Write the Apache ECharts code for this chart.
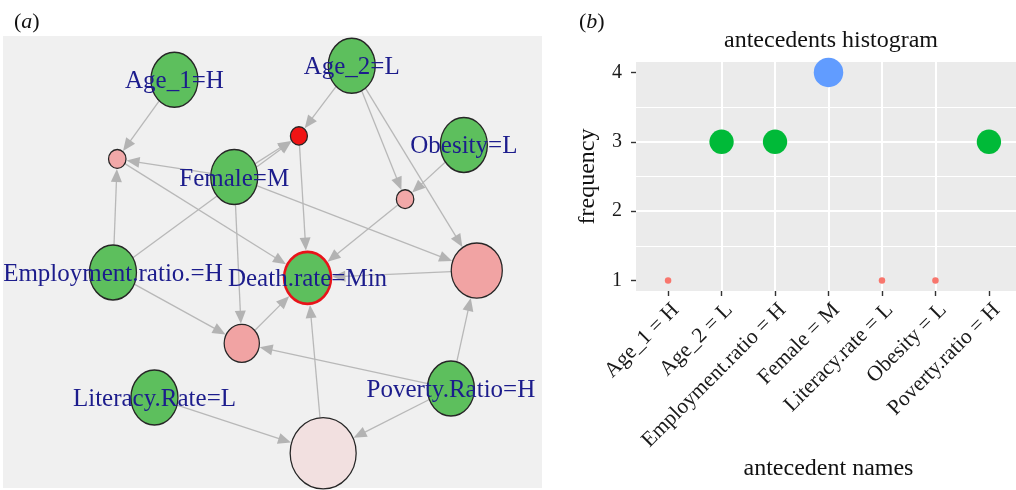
<!DOCTYPE html>
<html><head><meta charset="utf-8">
<script src="https://cdn.jsdelivr.net/npm/echarts@6/dist/echarts.min.js"></script>
<style>html,body{margin:0;padding:0;background:#fff}#c{width:1016px;height:490px}</style>
</head><body><div id="c"></div>
<script>
// ---------- panel (a): association-rule graph (layout coordinates 0..100) ----------
const itemNames   = ['Age_1=H','Age_2=L','Obesity=L','Female=M','Employment.ratio.=H','Death.rate=Min','Literacy.Rate=L','Poverty.Ratio=H'];
const itemLayoutX = [31.8, 64.7, 85.5, 42.9, 20.4, 56.5, 28.1, 83.1];
const itemLayoutY = [90.3, 93.4, 75.9, 68.8, 47.7, 46.5, 20.0, 22.0];
const ruleLayoutX = [21.2, 54.9, 74.6, 87.9, 44.3, 59.4];
const ruleLayoutY = [72.8, 77.9, 63.9, 48.1, 32.0, 7.7];
const ruleSupport = [0.0100, 0.0095, 0.0100, 0.0460, 0.0290, 0.0620];
const ruleLift    = [1.55, 3.0, 1.55, 1.6, 1.6, 1.0];
const ruleLhs = [
  ['Age_1=H','Female=M','Employment.ratio.=H'],
  ['Age_2=L','Female=M','Employment.ratio.=H'],
  ['Age_2=L','Obesity=L'],
  ['Age_2=L','Female=M','Poverty.Ratio=H'],
  ['Female=M','Employment.ratio.=H','Poverty.Ratio=H'],
  ['Literacy.Rate=L','Poverty.Ratio=H']
];
const ruleRhs = 'Death.rate=Min';

// ---------- panel (b): antecedents histogram ----------
const antecedentNames = ['Age_1 = H','Age_2 = L','Employment.ratio = H','Female = M','Literacy.rate = L','Obesity = L','Poverty.ratio = H'];
const frequency = [1, 3, 3, 4, 1, 1, 3];
const freqTicks = [1, 2, 3, 4];
const freqMinorTicks = [1, 1.5, 2, 2.5, 3, 3.5, 4];

// ---------- build graph ----------
const SERIF = "'Liberation Serif','Times New Roman',serif";
const nodes = [];
itemNames.forEach((n, i) => nodes.push({
  x: itemLayoutX[i], y: itemLayoutY[i], label: n,
  size: n === ruleRhs ? [47, 52] : [47, 55],
  color: '#5dbf5d',
  border: n === ruleRhs ? '#e8141a' : '#262626',
  bw: n === ruleRhs ? 2.6 : 1.4
}));
const sMin = Math.min(...ruleSupport), sMax = Math.max(...ruleSupport);
const lMin = Math.min(...ruleLift), lMax = Math.max(...ruleLift);
function liftColor(l) {
  const t = (l - lMin) / (lMax - lMin);
  const c0 = [242, 224, 224], c1 = [240, 20, 20];
  const c = c0.map((v, k) => Math.round(v + (c1[k] - v) * t));
  return 'rgb(' + c.join(',') + ')';
}
ruleLayoutX.forEach((x, i) => {
  const w = 17 + (ruleSupport[i] - sMin) / (sMax - sMin) * 49;
  nodes.push({ x: x, y: ruleLayoutY[i], label: '', size: [w, w * 1.08],
    color: liftColor(ruleLift[i]), border: '#262626', bw: 1.3 });
});
const edges = [];
ruleLhs.forEach((lhs, r) => {
  const rn = itemNames.length + r;
  lhs.forEach(it => edges.push([itemNames.indexOf(it), rn]));
  edges.push([rn, itemNames.indexOf(ruleRhs)]);
});

function ellipseR(size, dx, dy) {
  const a = size[0] / 2, b = size[1] / 2;
  return 1 / Math.sqrt((dx / a) * (dx / a) + (dy / b) * (dy / b));
}
const ellipsePath = 'path://M0,-1C0.5523,-1,1,-0.5523,1,0C1,0.5523,0.5523,1,0,1C-0.5523,1,-1,0.5523,-1,0C-1,-0.5523,-0.5523,-1,0,-1Z';

// ---------- panel (b) helpers ----------
const catPos = antecedentNames.map((_, i) => i + 1);
const fLevels = [...new Set(frequency)].sort((a, b) => a - b);
const fPalette = ['#F8766D', '#00BA38', '#619CFF'];
function fSize(f) {
  const d0 = 6.5, d1 = 29.5, lo = Math.min(...frequency), hi = Math.max(...frequency);
  return Math.sqrt(d0 * d0 + (f - lo) / (hi - lo) * (d1 * d1 - d0 * d0));
}
const tagRich = {
  p: { fontFamily: SERIF, fontSize: 22, fontWeight: 'normal', color: '#111' },
  i: { fontFamily: SERIF, fontSize: 22, fontWeight: 'normal', fontStyle: 'italic', color: '#111' }
};

const chart = echarts.init(document.getElementById('c'), null, { renderer: 'canvas' });
chart.setOption({
  animation: false,
  backgroundColor: '#ffffff',
  title: [
    { text: '{p|(}{i|a}{p|)}', left: 9, top: 6, textStyle: { fontWeight: 'normal', rich: tagRich } },
    { text: '{p|(}{i|b}{p|)}', left: 574, top: 6, textStyle: { fontWeight: 'normal', rich: tagRich } },
    { text: 'antecedents histogram', left: 826, top: 24, textAlign: 'center',
      textStyle: { fontFamily: SERIF, fontSize: 24, fontWeight: 'normal', color: '#111' } }
  ],
  grid: [
    { left: 3, top: 36, width: 539, height: 452, show: true, backgroundColor: '#f0f0f0', borderWidth: 0, containLabel: false, outerBoundsMode: 'none' },
    { left: 636, top: 62, width: 385, height: 229, show: true, backgroundColor: '#ebebeb', borderWidth: 0, containLabel: false, outerBoundsMode: 'none' }
  ],
  xAxis: [
    { type: 'value', gridIndex: 0, min: 0, max: 100, show: false },
    { type: 'value', gridIndex: 1, min: 0.4, max: 7.6, minInterval: 1, maxInterval: 1,
      axisLine: { show: false },
      axisTick: { show: true, length: 5, customValues: catPos, lineStyle: { color: '#333', width: 1.4 } },
      axisLabel: { show: true, customValues: catPos, rotate: 45, align: 'right', verticalAlign: 'top', margin: 8,
        fontFamily: SERIF, fontSize: 21.5, color: '#1a1a1a',
        formatter: v => antecedentNames[Math.round(v) - 1] || '' },
      splitLine: { show: true, showMinLine: false, showMaxLine: false, lineStyle: { color: '#ffffff', width: 2 } },
      name: 'antecedent names', nameLocation: 'middle', nameGap: 166, nameMoveOverlap: false,
      nameTextStyle: { fontFamily: SERIF, fontSize: 24, color: '#111' } }
  ],
  yAxis: [
    { type: 'value', gridIndex: 0, min: 0, max: 100, show: false },
    { type: 'value', gridIndex: 1, min: 0.85, max: 4.15, minInterval: 1, maxInterval: 1,
      axisLine: { show: false },
      axisTick: { show: true, length: 5, customValues: freqTicks, lineStyle: { color: '#333', width: 1.4 } },
      axisLabel: { show: true, customValues: freqTicks, margin: 14, fontFamily: SERIF, fontSize: 20, color: '#1a1a1a',
        formatter: v => (Math.abs(v - Math.round(v)) < 1e-6 ? String(Math.round(v)) : '') },
      splitLine: { show: true, showMinLine: false, showMaxLine: false, lineStyle: { color: '#ffffff', width: 2 } },
      name: 'frequency', nameLocation: 'middle', nameGap: 36, nameRotate: 90, nameMoveOverlap: false,
      nameTextStyle: { fontFamily: SERIF, fontSize: 24, color: '#111' } },
    { type: 'value', gridIndex: 1, min: 0.85, max: 4.15, minInterval: 0.5, maxInterval: 0.5, position: 'left',
      axisLine: { show: false }, axisTick: { show: false, customValues: freqMinorTicks }, axisLabel: { show: false },
      splitLine: { show: true, showMinLine: false, showMaxLine: false, lineStyle: { color: '#ffffff', width: 1 } } }
  ],
  series: [
    { type: 'custom', xAxisIndex: 0, yAxisIndex: 0, silent: true, z: 2,
      data: edges.map(e => [nodes[e[0]].x, nodes[e[0]].y, nodes[e[1]].x, nodes[e[1]].y]),
      encode: { x: [0, 2], y: [1, 3] },
      renderItem: function (params, api) {
        const e = edges[params.dataIndex];
        const a = nodes[e[0]], b = nodes[e[1]];
        const p0 = api.coord([api.value(0), api.value(1)]);
        const p1 = api.coord([api.value(2), api.value(3)]);
        let dx = p1[0] - p0[0], dy = p1[1] - p0[1];
        const len = Math.sqrt(dx * dx + dy * dy); dx /= len; dy /= len;
        const r0 = ellipseR(a.size, dx, dy), r1 = ellipseR(b.size, dx, dy) + b.bw / 2;
        const tip = [p1[0] - dx * r1, p1[1] - dy * r1];
        const L = 13, W = 5.5;
        const base = [tip[0] - dx * L, tip[1] - dy * L];
        return { type: 'group', children: [
          { type: 'line', shape: { x1: p0[0] + dx * r0, y1: p0[1] + dy * r0, x2: base[0] + dx * 2, y2: base[1] + dy * 2 },
            style: { stroke: '#b8b8b8', lineWidth: 1.3 } },
          { type: 'polygon', shape: { points: [tip, [base[0] - dy * W, base[1] + dx * W], [base[0] + dy * W, base[1] - dx * W]] },
            style: { fill: '#b3b3b3' } }
        ] };
      } },
    { type: 'scatter', xAxisIndex: 0, yAxisIndex: 0, z: 3, silent: true, symbol: ellipsePath,
      data: nodes.map(n => ({ value: [n.x, n.y], name: n.label, symbolSize: n.size,
        itemStyle: { color: n.color, borderColor: n.border, borderWidth: n.bw, opacity: 1 } })),
      label: { show: true, position: 'inside', offset: [0, 2], formatter: p => p.name,
        fontFamily: SERIF, fontSize: 25, color: '#1c1c8c' },
      emphasis: { disabled: true } },
    { type: 'scatter', xAxisIndex: 1, yAxisIndex: 1, z: 3, silent: true, clip: true,
      data: frequency.map((f, i) => ({ value: [catPos[i], f],
        symbolSize: fSize(f), itemStyle: { color: fPalette[fLevels.indexOf(f)], opacity: 1 } })),
      symbol: 'circle', emphasis: { disabled: true } }
  ]
});
</script></body></html>
